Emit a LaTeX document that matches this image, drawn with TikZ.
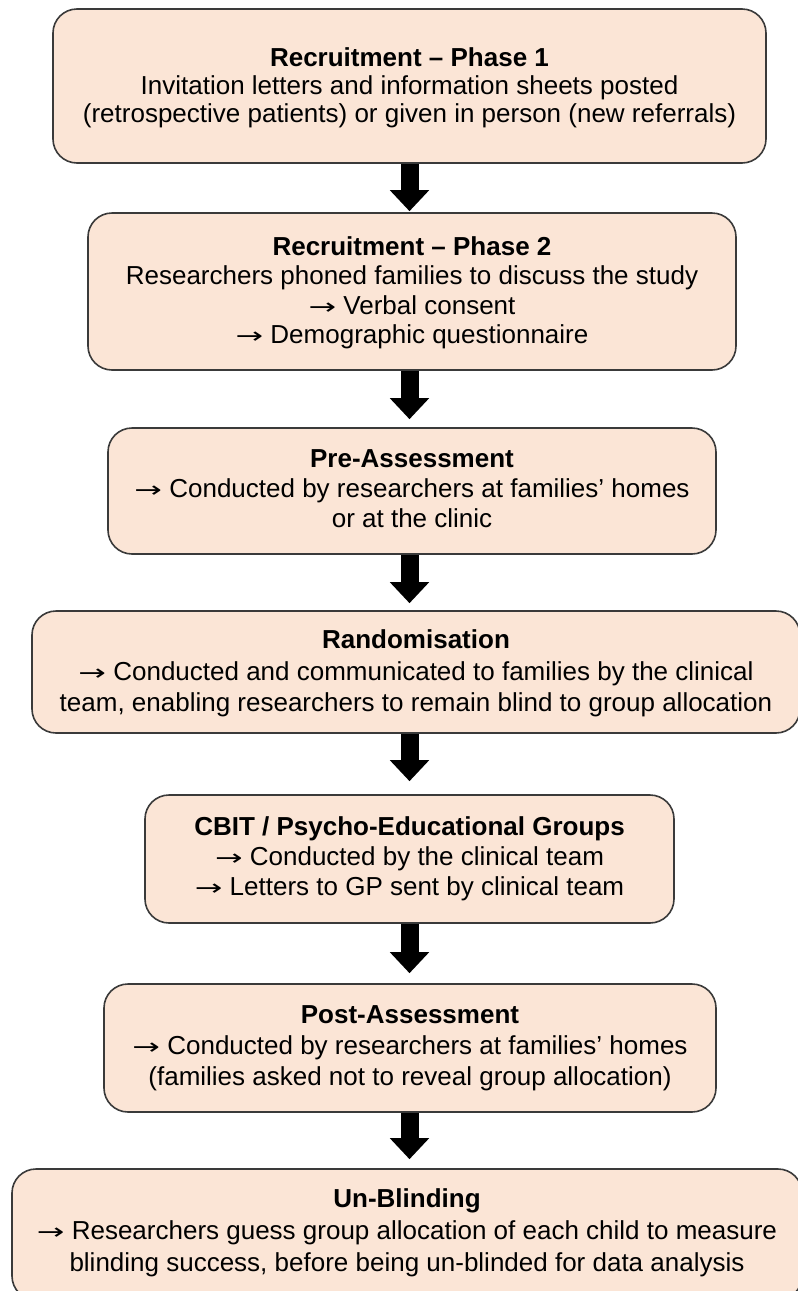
\documentclass[tikz,border=0pt]{standalone}
\usepackage{fontspec}
\setmainfont{Liberation Sans}
\newfontfamily\symfont{DejaVu Sans}
\usetikzlibrary{arrows.meta}
\definecolor{boxfill}{HTML}{FBE5D6}
\definecolor{boxline}{HTML}{3A3A3A}
\newcommand\arr{{\symfont\fontsize{22}{22}\selectfont\scalebox{1.5}[1]{→}}}
\newcommand\topfix[1]{\rule{0pt}{\dimexpr24pt+(#1)*2\relax}}
\newcommand\botfix{\rule[-8pt]{0pt}{0pt}}
\tikzset{
  stage/.style={draw=boxline, line width=1.6pt, fill=boxfill, rounded corners=24pt,
    inner sep=0pt, align=center, font=\fontsize{26}{30}\selectfont},
  blockarrow/.style={line width=18pt, draw=black, -{Triangle[length=21pt,width=38pt]}}
}
\begin{document}
\begin{tikzpicture}[x=1pt,y=-1pt]
\useasboundingbox (0,0) rectangle (798,1291);
\clip (0,0) rectangle (798,1291);
\node[stage, font=\fontsize{26}{28}\selectfont, minimum width=713pt, minimum height=154pt] (b1) at (409.5,86)
  {\topfix{0.5pt}\textbf{Recruitment – Phase 1}\\Invitation letters and information sheets posted\\(retrospective patients) or given in person (new referrals)\botfix};
\node[stage, font=\fontsize{26}{29.5}\selectfont, minimum width=648pt, minimum height=157pt] (b2) at (412,291.5)
  {\topfix{0pt}\textbf{Recruitment – Phase 2}\\Researchers phoned families to discuss the study\\\arr\ Verbal consent\\\arr\ Demographic questionnaire\botfix};
\node[stage, minimum width=608pt, minimum height=126pt] (b3) at (412,491)
  {\topfix{-1.5pt}\textbf{Pre-Assessment}\\\arr\ Conducted by researchers at families’ homes\\or at the clinic\botfix};
\node[stage, font=\fontsize{26}{31.5}\selectfont, minimum width=768pt, minimum height=122pt] (b4) at (416,672)
  {\topfix{0pt}\textbf{Randomisation}\\\arr\ Conducted and communicated to families by the clinical\\team, enabling researchers to remain blind to group allocation\botfix};
\node[stage, minimum width=529pt, minimum height=128pt] (b5) at (409.5,859)
  {\topfix{-2pt}\textbf{CBIT / Psycho-Educational Groups}\\\arr\ Conducted by the clinical team\\\arr\ Letters to GP sent by clinical team\botfix};
\node[stage, font=\fontsize{26}{31}\selectfont, minimum width=612pt, minimum height=128pt] (b6) at (410,1048)
  {\topfix{-2pt}\textbf{Post-Assessment}\\\arr\ Conducted by researchers at families’ homes\\(families asked not to reveal group allocation)\botfix};
\node[stage, font=\fontsize{26}{32}\selectfont, minimum width=790pt, minimum height=131pt] (b7) at (407,1234.5)
  {\topfix{-5pt}\textbf{Un-Blinding}\\\arr\ Researchers guess group allocation of each child to measure\\blinding success, before being un-blinded for data analysis\botfix};
\draw[blockarrow] (b1.south) -- ([yshift=1pt]b2.north -| b1.south);
\draw[blockarrow] (b2.south -| b1.south) -- ([yshift=8pt]b3.north -| b1.south);
\draw[blockarrow] (b3.south -| b1.south) -- ([yshift=7pt]b4.north -| b1.south);
\draw[blockarrow] (b4.south -| b1.south) -- ([yshift=13pt]b5.north -| b1.south);
\draw[blockarrow] (b5.south -| b1.south) -- ([yshift=10pt]b6.north -| b1.south);
\draw[blockarrow] (b6.south -| b1.south) -- ([yshift=9pt]b7.north -| b1.south);
\end{tikzpicture}
\end{document}
